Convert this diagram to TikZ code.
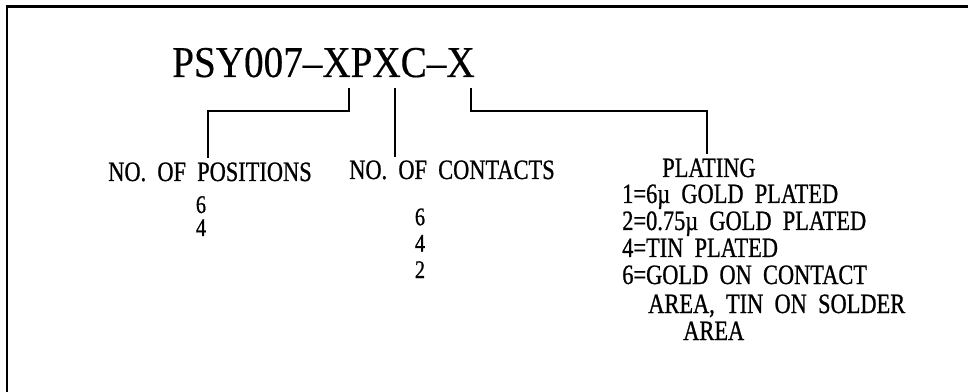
\documentclass[tikz,border=0pt]{standalone}
\usepackage{fontspec}
\setmainfont{Liberation Serif}[FakeStretch=0.8, WordSpace=2, FakeBold=0.8]
\newfontfamily\titlefont{Liberation Serif}[FakeStretch=0.89, FakeBold=0.4]
\usepackage{tikz}
\usetikzlibrary{positioning, calc}

\begin{document}
\begin{tikzpicture}[x=0.75pt, y=-0.75pt, line cap=rect,
  txt/.style={inner sep=0pt, anchor=base west, font=\fontsize{21pt}{25pt}\selectfont},
  num/.style={inner sep=0pt, anchor=base, align=center, font=\fontsize{19pt}{#1}\selectfont},
  lead/.style={line width=1pt}]
\useasboundingbox (0,0) rectangle (968,392);
% frame
\draw[line width=1.6pt] (7,392) -- (7,6.5) -- (968,6.5);
% part number
\node[inner sep=0pt, anchor=base west, font=\titlefont\fontsize{33pt}{36pt}\selectfont] (title) at (172,77) {PSY007–XPXC–X};
\coordinate (xa) at (349,89);
\coordinate (xb) at (395,89);
\coordinate (xc) at (471,89);
% fields (num nodes sit on their last line)
\node[txt] (pos) at (108,181) {NO. OF POSITIONS};
\node[num=17.3pt] (posn) at (201,236) {6\\4};
\node[txt] (con) at (349,179) {NO. OF CONTACTS};
\node[num=19.8pt] (conn) at (420,278) {6\\4\\2};
\node[txt] (plat) at (662,177) {PLATING};
\node[txt] (plat1) at (622,203) {1=6µ GOLD PLATED};
\node[txt] (plat2) at (622,230) {2=0.75µ GOLD PLATED};
\node[txt] (plat4) at (622,257) {4=TIN PLATED};
\node[txt] (plat6) at (622,284) {6=GOLD ON CONTACT};
\node[txt] (plat6b) at (648,313) {AREA, TIN ON SOLDER};
\node[txt] (plat6c) at (683,340) {AREA};
% leaders
\coordinate (pa) at (208,157);
\coordinate (cb) at (395,156);
\coordinate (pc) at (707,153);
\draw[lead] (xa) -- ++(0,22) -| (pa);
\draw[lead] (xb) -- (cb);
\draw[lead] (xc) -- ++(0,22) -| (pc);
\end{tikzpicture}
\end{document}
